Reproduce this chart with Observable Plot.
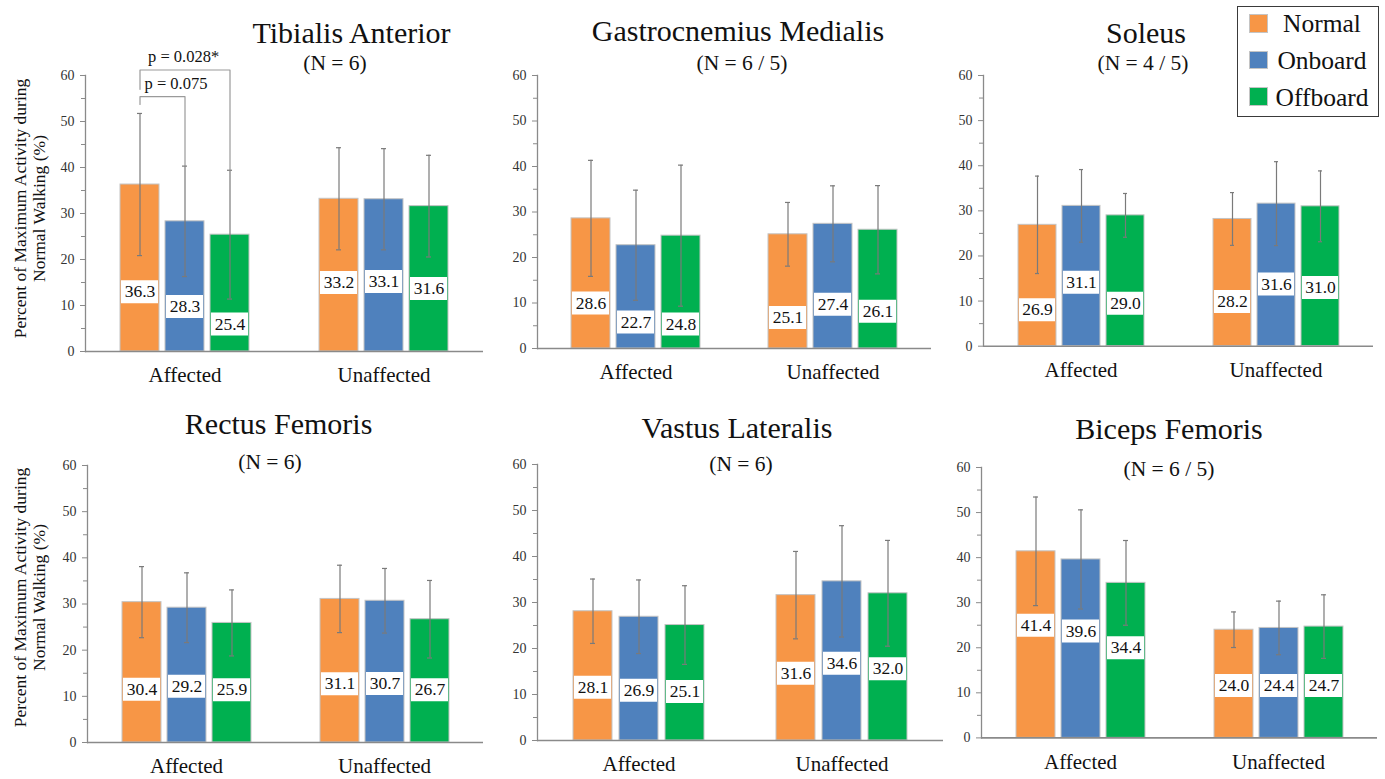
<!DOCTYPE html>
<html><head><meta charset="utf-8">
<script src="https://cdn.jsdelivr.net/npm/d3@7"></script>
<script src="https://cdn.jsdelivr.net/npm/@observablehq/plot@0.6"></script>
<style>
body{margin:0;background:#fff;}
#chart{position:relative;width:1385px;height:779px;overflow:hidden;font-family:"Liberation Serif","Times New Roman",serif;color:#111;background:#fff;}
.abs{position:absolute;white-space:nowrap;}
#chart svg{position:absolute;overflow:visible;}
#chart svg text{font-family:"Liberation Serif","Times New Roman",serif;}
</style></head><body><div id="chart"></div>
<script>
// ---------------- data ----------------
const sides = ["Affected", "Unaffected"];
const conditions = ["Normal", "Onboard", "Offboard"];
const muscles = ["Tibialis Anterior", "Gastrocnemius Medialis", "Soleus", "Rectus Femoris", "Vastus Lateralis", "Biceps Femoris"];
const sampleSizes = ["(N = 6)", "(N = 6 / 5)", "(N = 4 / 5)", "(N = 6)", "(N = 6)", "(N = 6 / 5)"];
const yTicks = [0, 10, 20, 30, 40, 50, 60];
const yMinorTicks = [5, 15, 25, 35, 45, 55];
const yTitle = ["Percent of Maximum Activity during", "Normal Walking (%)"];

// order: Affected Normal/Onboard/Offboard, Unaffected Normal/Onboard/Offboard
const tibialisMean = [36.3, 28.3, 25.4, 33.2, 33.1, 31.6];
const tibialisSD = [15.45, 12.0, 14.0, 11.1, 11.0, 11.05];
const tibialisLabelAt = [13.0, 9.8, 6.0, 15.0, 15.2, 13.7];

const gastrocMean = [28.6, 22.7, 24.8, 25.1, 27.4, 26.1];
const gastrocSD = [12.75, 12.1, 15.5, 7.0, 8.35, 9.7];
const gastrocLabelAt = [10.0, 5.8, 5.4, 6.8, 9.7, 8.2];

const soleusMean = [26.9, 31.1, 29.0, 28.2, 31.6, 31.0];
const soleusSD = [10.8, 8.05, 4.85, 5.85, 9.3, 7.85];
const soleusLabelAt = [8.1, 14.2, 9.5, 9.9, 13.8, 13.0];

const rectusMean = [30.4, 29.2, 25.9, 31.1, 30.7, 26.7];
const rectusSD = [7.7, 7.55, 7.15, 7.3, 7.0, 8.4];
const rectusLabelAt = [11.55, 12.2, 11.4, 12.7, 12.8, 11.4];

const vastusMean = [28.1, 26.9, 25.1, 31.6, 34.6, 32.0];
const vastusSD = [7.0, 8.0, 8.55, 9.5, 12.1, 11.5];
const vastusLabelAt = [11.6, 10.9, 10.65, 14.6, 16.8, 15.6];

const bicepsMean = [41.4, 39.6, 34.4, 24.0, 24.4, 24.7];
const bicepsSD = [12.05, 11.0, 9.4, 3.95, 5.95, 7.05];
const bicepsLabelAt = [25.0, 23.7, 20.0, 11.65, 11.65, 11.65];

// significance comparisons (Tibialis Anterior, Affected side)
const pComparisons = [
  {from: "Normal", to: "Offboard", label: "p = 0.028*"},
  {from: "Normal", to: "Onboard", label: "p = 0.075"}
];

// ---------------- styles / layout ----------------
const palette = ["#F79646", "#4F81BD", "#00B050"];
const serif = "Liberation Serif, Times New Roman, serif";
const axisGray = "#8a8a8a";
const errGray = "#7a7a7a";
const layout = [
  {left: 85, right: 483, top: 75, bottom: 351, titleX: 351.5, titleBase: 43, subX: 335, subBase: 70.7},
  {left: 536, right: 931, top: 75, bottom: 348, titleX: 738, titleBase: 40.7, subX: 742, subBase: 70.7},
  {left: 982, right: 1373, top: 75.3, bottom: 346, titleX: 1146, titleBase: 42.7, subX: 1143, subBase: 71.5},
  {left: 86, right: 483, top: 465, bottom: 742, titleX: 278.6, titleBase: 434.3, subX: 270, subBase: 470},
  {left: 537, right: 943, top: 464, bottom: 740, titleX: 737, titleBase: 437.7, subX: 741, subBase: 471.7},
  {left: 980, right: 1377, top: 467.3, bottom: 737.7, titleX: 1169, titleBase: 439, subX: 1169, subBase: 476.7}
];
const yTitleCenters = [207.5, 596.7];
const bracketLevels = [61.2, 55.4], bracketFeet = [57.0, 53.7], pTextLevels = [64.0, 58.3], pTextDx = [8, 4.5];

const panelMeans = [tibialisMean, gastrocMean, soleusMean, rectusMean, vastusMean, bicepsMean];
const panelSDs = [tibialisSD, gastrocSD, soleusSD, rectusSD, vastusSD, bicepsSD];
const panelLabels = [tibialisLabelAt, gastrocLabelAt, soleusLabelAt, rectusLabelAt, vastusLabelAt, bicepsLabelAt];

const chart = document.getElementById("chart");
const mL = 45, mR = 0, mT = 10, mB = 45;

function addText(text, x, base, size, anchor = "middle") {
  const d = document.createElement("div");
  d.className = "abs";
  d.textContent = text;
  d.style.fontSize = size + "px";
  d.style.lineHeight = size + "px";
  d.style.top = (base - 0.8375 * size) + "px";
  if (anchor === "middle") { d.style.left = (x - 300) + "px"; d.style.width = "600px"; d.style.textAlign = "center"; }
  else d.style.left = x + "px";
  chart.appendChild(d);
  return d;
}

muscles.forEach((muscle, p) => {
  const L = layout[p];
  const rows = [];
  sides.forEach((side, s) => conditions.forEach((cond, c) => {
    const j = s * 3 + c;
    rows.push({side, condition: cond, mean: panelMeans[p][j], sd: panelSDs[p][j], labelAt: panelLabels[p][j]});
  }));

  const marks = [
    Plot.barY(rows, {fx: "side", x: "condition", y: "mean", fill: "condition", stroke: "#c4c4c4", strokeWidth: 1}),
    Plot.ruleX(rows, {fx: "side", x: "condition", y1: d => d.mean - d.sd, y2: d => d.mean + d.sd, stroke: errGray, strokeWidth: 1.2}),
    Plot.tickY(rows, {fx: "side", x: "condition", y: d => d.mean + d.sd, stroke: errGray, strokeWidth: 1.2, insetLeft: 17, insetRight: 17}),
    Plot.tickY(rows, {fx: "side", x: "condition", y: d => d.mean - d.sd, stroke: errGray, strokeWidth: 1.2, insetLeft: 17, insetRight: 17}),
    Plot.tickY(rows, {fx: "side", x: "condition", y: "labelAt", stroke: "white", strokeWidth: 23, insetLeft: 1, insetRight: 1}),
    Plot.text(rows, {fx: "side", x: "condition", y: "labelAt", text: d => d.mean.toFixed(1), fontSize: 17.5, fill: "#111", fontFamily: serif}),
    Plot.ruleY([0], {stroke: axisGray, strokeWidth: 1.6}),
    Plot.frame({anchor: "left", facetAnchor: "left", stroke: axisGray, strokeWidth: 1.3}),
    Plot.axisY({ticks: yTicks, tickSize: 5, tickPadding: 6, tickFormat: d => String(d), stroke: axisGray, fill: "#333", fontSize: 14, fontFamily: serif, label: null}),
    Plot.axisY({ticks: yMinorTicks, tickSize: 4, tickFormat: () => "", stroke: axisGray, label: null}),
    Plot.axisFx({anchor: "bottom", tickSize: 0, tickPadding: 16, fontSize: 21, fontFamily: serif, fill: "#111", label: null})
  ];

  if (p === 0) {
    const lines = [];
    const texts = [];
    pComparisons.forEach((cmp, k) => {
      const target = rows.find(r => r.side === "Affected" && r.condition === cmp.to);
      const id = "b" + k;
      lines.push({id, side: "Affected", condition: cmp.from, v: bracketFeet[k]});
      lines.push({id, side: "Affected", condition: cmp.from, v: bracketLevels[k]});
      lines.push({id, side: "Affected", condition: cmp.to, v: bracketLevels[k]});
      lines.push({id, side: "Affected", condition: cmp.to, v: target.mean + target.sd});
      texts.push({side: "Affected", condition: cmp.from, v: pTextLevels[k], label: cmp.label, dx: pTextDx[k]});
    });
    marks.push(Plot.line(lines, {fx: "side", x: "condition", y: "v", z: "id", stroke: "#9a9a9a", strokeWidth: 1.2, curve: "linear"}));
    texts.forEach(t => marks.push(Plot.text([t], {fx: "side", x: "condition", y: "v", text: "label", textAnchor: "start", dx: t.dx, fontSize: 16.5, fill: "#111", fontFamily: serif})));
  }

  const width = (L.right - L.left) + mL + mR;
  const height = (L.bottom - L.top) + mT + mB;
  const svg = Plot.plot({
    width, height,
    marginLeft: mL, marginRight: mR, marginTop: mT, marginBottom: mB,
    style: {fontFamily: serif, fontSize: "14px", background: "none", overflow: "visible"},
    fx: {domain: sides, padding: 0},
    x: {domain: conditions, paddingInner: 0.143, paddingOuter: 0.758, axis: null},
    y: {domain: [0, 60], nice: false},
    color: {domain: conditions, range: palette},
    marks
  });
  svg.style.left = (L.left - mL) + "px";
  svg.style.top = (L.top - mT) + "px";
  chart.appendChild(svg);

  addText(muscle, L.titleX, L.titleBase, 30);
  addText(sampleSizes[p], L.subX, L.subBase, 21.5);
});

// y-axis titles (rotated, two lines)
yTitleCenters.forEach(cy => {
  const d = document.createElement("div");
  d.className = "abs";
  d.style.width = "320px";
  d.style.height = "40px";
  d.style.left = (29.5 - 160) + "px";
  d.style.top = (cy - 20) + "px";
  d.style.fontSize = "17.5px";
  d.style.lineHeight = "19px";
  d.style.textAlign = "center";
  d.style.color = "#111";
  d.style.transform = "rotate(-90deg)";
  d.innerHTML = yTitle.map(t => `<div>${t}</div>`).join("");
  d.style.paddingTop = "1px";
  chart.appendChild(d);
});

// legend
const legend = document.createElement("div");
legend.className = "abs";
Object.assign(legend.style, {left: "1237px", top: "5.5px", width: "140px", height: "109px", border: "1.5px solid #3a3a3a", background: "#fff"});
chart.appendChild(legend);
const swatchTops = [14, 50.7, 87.3];
const legendBases = [32.3, 69, 106];
conditions.forEach((c, i) => {
  const sw = document.createElement("div");
  sw.className = "abs";
  Object.assign(sw.style, {left: "1248.5px", top: swatchTops[i] + "px", width: "19px", height: "18.5px", background: palette[i], border: "1px solid #c4c4c4", boxSizing: "border-box"});
  chart.appendChild(sw);
  addText(c, 1322, legendBases[i], 25.5);
});
</script></body></html>
